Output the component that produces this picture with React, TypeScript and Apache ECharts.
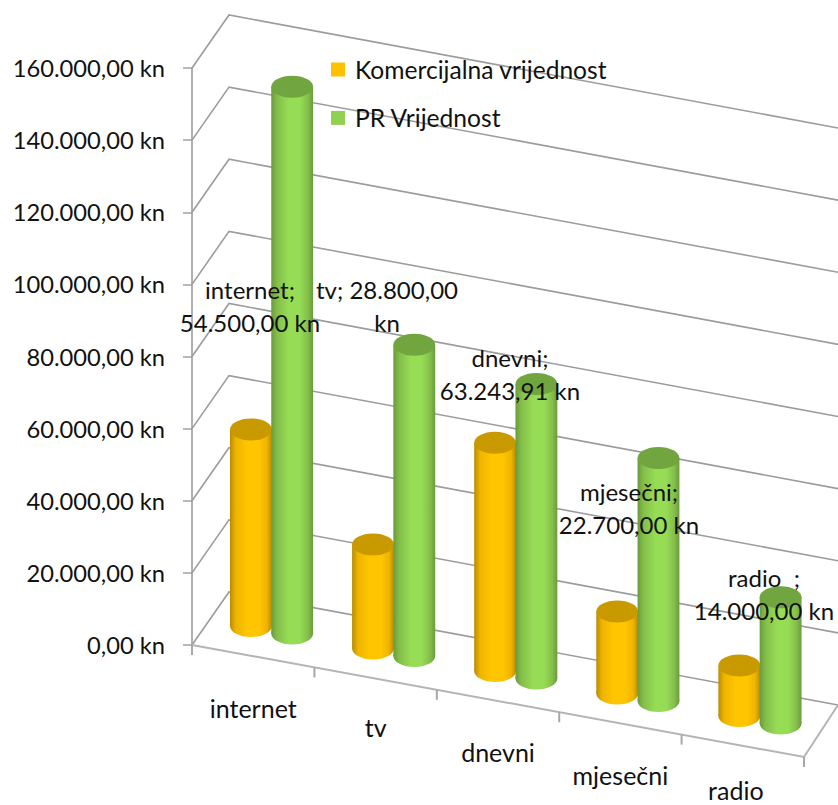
import React, { useEffect, useRef } from "react";
import * as echarts from "echarts";

const categories = ["internet", "tv", "dnevni", "mjesečni", "radio"];
const commercialName = "Komercijalna vrijednost";
const prName = "PR Vrijednost";
const commercialValues = [54500, 28800, 63243.91, 22700, 14000];
const prValues = [151600, 86300, 81700, 67400, 35000];
const axisValues = [0, 20000, 40000, 60000, 80000, 100000, 120000, 140000, 160000];
const dataLabelTexts = [
  "internet;\n54.500,00 kn",
  "tv; 28.800,00\nkn",
  "dnevni;\n63.243,91 kn",
  "mjesečni;\n22.700,00 kn",
  "radio  ;\n14.000,00 kn",
];

// Manually placed data labels (centre x, centre y of the two-line block).
const dataLabelSpots = [
  [250, 306],
  [387, 306],
  [510, 374],
  [629, 508],
  [764, 594],
];
const categoryLabelShift = [
  [0, 52],
  [0, 48],
  [0, 51],
  [0, 52],
  [-7, 44],
];

const FONT = "Lato, Carlito, Calibri, sans-serif";
const TEXT_COLOR = "#111111";
const LINE_COLOR = "#9c9c9c";
const AXIS_FONT_SIZE = 23.7;
const LABEL_FONT_SIZE = 24;
const CATEGORY_FONT_SIZE = 25;
const LEGEND_FONT_SIZE = 24.6;

// Corners of the floor in the oblique view.
const FL = [192, 645];
const FR = [804, 757];
const BL = [229, 592];
const BR = [838, 705];
const RX_RATIO = 0.171;
const OFFSET_RATIO = 0.169;
const RY = 11;
const BAR_DEPTH = 0.5;

const lerp = (a: number, b: number, t: number) => a + (b - a) * t;

// Maps an axis x pixel, a height in pixels and a depth (0 front, 1 back) to the view.
function project(x: number, h: number, d: number) {
  const u = (x - FL[0]) / (FR[0] - FL[0]);
  const fx = lerp(FL[0], FR[0], u);
  const fy = lerp(FL[1], FR[1], u);
  const bx = lerp(BL[0], BR[0], u);
  const by = lerp(BL[1], BR[1], u);
  return [lerp(fx, bx, d), lerp(fy, by, d) - h];
}

const formatKn = (v: number) => {
  const [whole, dec] = v.toFixed(2).split(".");
  return whole.replace(/\B(?=(\d{3})+$)/g, ".") + "," + dec + " kn";
};

function shade(dark: string, mid: string, bright: string) {
  return new echarts.graphic.LinearGradient(0, 0, 1, 0, [
    { offset: 0, color: dark },
    { offset: 0.14, color: mid },
    { offset: 0.42, color: bright },
    { offset: 0.68, color: bright },
    { offset: 0.88, color: mid },
    { offset: 1, color: dark },
  ]);
}

function cylinderSeries(
  name: string,
  values: number[],
  side: number,
  flat: string,
  cap: string,
  dark: string,
  mid: string,
  bright: string,
) {
  return {
    type: "custom",
    name,
    silent: true,
    z: 3,
    itemStyle: { color: flat },
    data: values.map((v, i) => [i, v]),
    renderItem: (_p: any, api: any) => {
      const band = api.size([1, 0])[0];
      const origin = api.coord([api.value(0), 0]);
      const top = api.coord([api.value(0), api.value(1)]);
      const h = origin[1] - top[1];
      const [cx, baseY] = project(origin[0] + side * band * OFFSET_RATIO, 0, BAR_DEPTH);
      const rx = band * RX_RATIO;
      const fill = shade(dark, mid, bright);
      return {
        type: "group",
        children: [
          { type: "ellipse", shape: { cx, cy: baseY, rx, ry: RY }, style: { fill } },
          { type: "rect", shape: { x: cx - rx, y: baseY - h, width: 2 * rx, height: h }, style: { fill } },
          { type: "ellipse", shape: { cx, cy: baseY - h, rx, ry: RY }, style: { fill: cap } },
        ],
      };
    },
  };
}

// Floor outline plus the bent gridlines running over the side and back walls.
const wallSeries = {
  type: "custom",
  silent: true,
  z: 1,
  data: axisValues.map((v) => [0, v]),
  renderItem: (_p: any, api: any) => {
    const zero = api.coord([0, 0]);
    const pos = api.coord([0, api.value(1)]);
    const h = zero[1] - pos[1];
    const stroke = { stroke: LINE_COLOR, lineWidth: 1.6, fill: "none" };
    const children: any[] = [
      {
        type: "polyline",
        shape: { points: [[FL[0], FL[1] - h], [BL[0], BL[1] - h], [BR[0], BR[1] - h]] },
        style: stroke,
      },
    ];
    if (api.value(1) === 0) {
      children.push({
        type: "polyline",
        shape: { points: [BR, FR, FL] },
        style: { ...stroke, stroke: "#b4b4b4", lineWidth: 2 },
      });
    }
    return { type: "group", children };
  },
};

// Ticks and labels along the slanted front edge of the floor.
const categorySeries = {
  type: "custom",
  silent: true,
  z: 2,
  data: categories.map((_c, i) => [i, 0]),
  renderItem: (_p: any, api: any) => {
    const i = api.value(0);
    const band = api.size([1, 0])[0];
    const c = api.coord([i, 0]);
    const tick = (x: number) => {
      const [px, py] = project(x, 0, 0);
      return {
        type: "line",
        shape: { x1: px, y1: py, x2: px, y2: py + 10 },
        style: { stroke: "#a8a8a8", lineWidth: 2 },
      };
    };
    const [lx, ly] = project(c[0], 0, 0);
    const children: any[] = [
      tick(c[0] - band / 2),
      {
        type: "text",
        x: lx + categoryLabelShift[i][0],
        y: ly + categoryLabelShift[i][1],
        style: {
          text: categories[i],
          fill: TEXT_COLOR,
          font: `${CATEGORY_FONT_SIZE}px ${FONT}`,
          align: "center",
          verticalAlign: "middle",
        },
      },
    ];
    if (i === categories.length - 1) children.push(tick(c[0] + band / 2));
    return { type: "group", children };
  },
};

export default function App() {
  const ref = useRef<HTMLDivElement>(null);

  useEffect(() => {
    const chart = echarts.init(ref.current!, undefined, { renderer: "svg" });
    chart.setOption({
      animation: false,
      backgroundColor: "#ffffff",
      grid: { left: FL[0], top: 68, width: FR[0] - FL[0], height: FL[1] - 68 },
      xAxis: { type: "category", data: categories, show: false },
      yAxis: {
        type: "value",
        min: axisValues[0],
        max: axisValues[axisValues.length - 1],
        interval: 20000,
        splitLine: { show: false },
        axisLine: { show: true, lineStyle: { color: "#b0b0b0", width: 2 } },
        axisTick: { show: true, length: 9, lineStyle: { color: "#a0a0a0", width: 1.5 } },
        axisLabel: {
          formatter: (v: number) => formatKn(v),
          margin: 27,
          color: TEXT_COLOR,
          fontFamily: FONT,
          fontSize: AXIS_FONT_SIZE,
        },
      },
      legend: {
        show: true,
        data: [commercialName, prName],
        orient: "vertical",
        left: 331,
        top: 57,
        padding: 0,
        itemWidth: 14,
        itemHeight: 14,
        itemGap: 23.4,
        icon: "rect",
        selectedMode: false,
        textStyle: {
          color: TEXT_COLOR,
          fontFamily: FONT,
          fontSize: LEGEND_FONT_SIZE,
          padding: [0, 0, 0, 5],
        },
      },
      series: [
        wallSeries,
        categorySeries,
        cylinderSeries(commercialName, commercialValues, -1, "#FFC000", "#C99A00", "#B98C00", "#EFB400", "#FFC600"),
        cylinderSeries(prName, prValues, 1, "#92D050", "#71A53F", "#6A9A3C", "#84BE4A", "#96DC55"),
      ],
      graphic: dataLabelTexts.map((text, i) => ({
        type: "text",
        x: dataLabelSpots[i][0],
        y: dataLabelSpots[i][1],
        z: 10,
        style: {
          text,
          fill: TEXT_COLOR,
          font: `${LABEL_FONT_SIZE}px ${FONT}`,
          lineHeight: 33,
          align: "center",
          verticalAlign: "middle",
        },
      })),
    });
    return () => chart.dispose();
  }, []);

  return (
    <div
      ref={ref}
      style={{ position: "absolute", left: 0, top: 0, width: 838, height: 805 }}
    />
  );
}
